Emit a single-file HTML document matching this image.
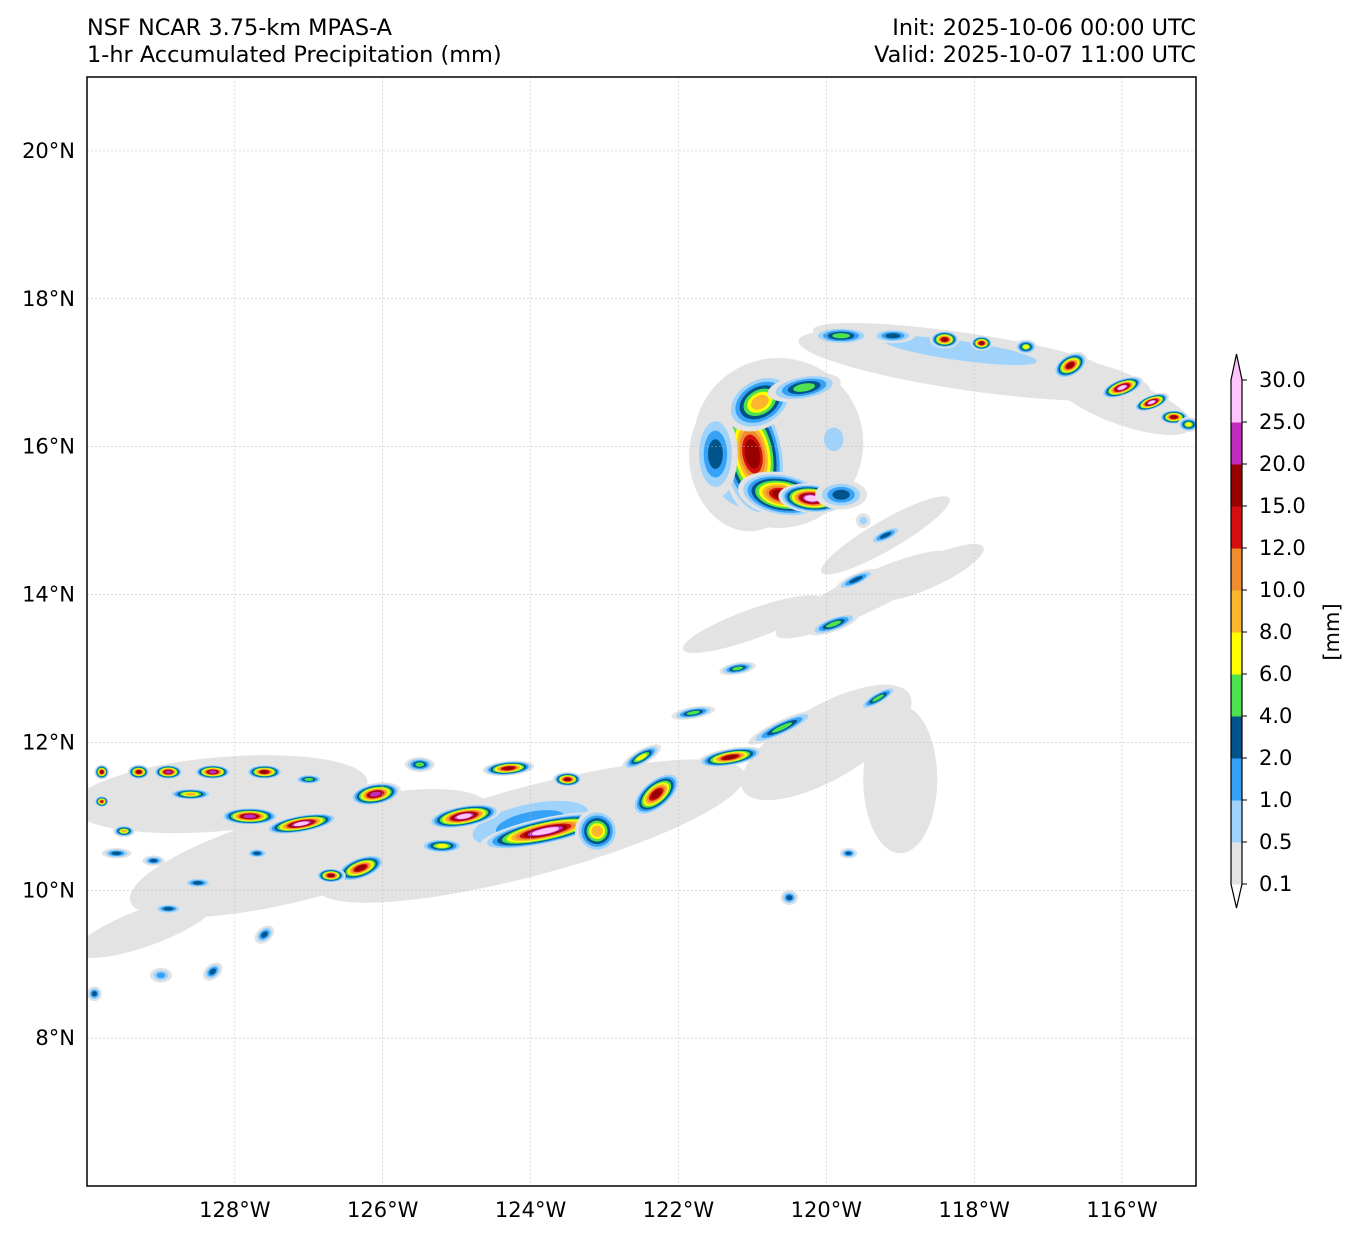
<!DOCTYPE html>
<html><head><meta charset="utf-8"><style>
body{margin:0;background:#fff;font-family:"Liberation Sans","DejaVu Sans",sans-serif;}
svg text{font-family:"DejaVu Sans","Liberation Sans",sans-serif;fill:#000;}
</style></head><body>
<svg id="chart" width="1360" height="1239" viewBox="0 0 1360 1239" xmlns="http://www.w3.org/2000/svg">
<text x="87" y="35" font-size="22.4">NSF NCAR 3.75-km MPAS-A</text>
<text x="87" y="62" font-size="22.4">1-hr Accumulated Precipitation (mm)</text>
<text x="1196" y="35" font-size="22.4" text-anchor="end">Init: 2025-10-06 00:00 UTC</text>
<text x="1196" y="62" font-size="22.4" text-anchor="end">Valid: 2025-10-07 11:00 UTC</text>
<defs><clipPath id="clip"><rect x="87" y="77" width="1109" height="1109"/></clipPath></defs>
<g id="field" clip-path="url(#clip)"></g>
<g id="grid"></g>
<rect x="87" y="77" width="1109" height="1109" fill="none" stroke="#000" stroke-width="1.5"/>
<g id="axes"></g>
<g id="cbar"></g>
<text transform="translate(1339,632) rotate(-90)" font-size="21" text-anchor="middle">[mm]</text>
</svg>
<script>
const levelLabels=["0.1","0.5","1.0","2.0","4.0","6.0","8.0","10.0","12.0","15.0","20.0","25.0","30.0"];
const levelColors=["#e3e3e3","#9fd3fb","#35a2f7","#005489","#4fe24f","#ffff00","#fbb62d","#ef8c2d","#d20e0e","#990000","#c22bbd","#ffc3fd"];
const lonTicks=[128,126,124,122,120,118,116];
const latTicks=[20,18,16,14,12,10,8];
// blobs: lon(W), lat(N), radius-x(deg), radius-y(deg), rotation, max level
const blobLon=[120.65,118.0,116.0,119.5,119.2,118.6,120.0,119.0,124.0,127.0,128.2,129.2,121.0,121.1,
121.0,120.6,120.2,120.9,120.3,121.5,119.8,119.9,118.2,
119.8,119.1,118.4,117.9,117.3,116.7,116.0,115.6,115.3,115.1,
119.2,119.6,119.9,121.2,121.8,120.6,119.3,121.3,122.3,
124.0,123.8,124.9,123.1,125.2,126.3,126.7,126.1,125.5,124.3,123.5,122.5,127.1,127.8,128.3,128.9,127.6,129.3,129.8,129.8,129.5,128.6,127.0,
128.5,128.9,128.3,127.6,129.0,129.9,129.6,129.1,127.7,119.7,120.5,119.5];
const blobLat=[16.05,17.1,16.6,14.0,14.8,14.3,12.0,11.5,10.8,10.5,11.3,9.5,13.6,15.8,
15.9,15.35,15.3,16.6,16.8,15.9,15.35,16.1,17.3,
17.5,17.5,17.45,17.4,17.35,17.1,16.8,16.6,16.4,16.3,
14.8,14.2,13.6,13.0,12.4,12.2,12.6,11.8,11.3,
10.9,10.8,11.0,10.8,10.6,10.3,10.2,11.3,11.7,11.65,11.5,11.8,10.9,11.0,11.6,11.6,11.6,11.6,11.6,11.2,10.8,11.3,11.5,
10.1,9.75,8.9,9.4,8.85,8.6,10.5,10.4,10.5,10.5,9.9,15.0];
const blobRx=[1.15,2.4,1.0,1.3,1.0,0.8,1.3,0.5,3.0,2.5,2.0,1.0,1.0,0.75,
0.45,0.6,0.45,0.5,0.5,0.3,0.35,0.25,2.0,
0.4,0.3,0.2,0.15,0.15,0.25,0.3,0.25,0.2,0.15,
0.25,0.3,0.35,0.25,0.3,0.5,0.3,0.45,0.4,
1.2,0.9,0.5,0.3,0.3,0.35,0.2,0.35,0.2,0.35,0.2,0.3,0.5,0.4,0.25,0.2,0.25,0.15,0.1,0.1,0.15,0.3,0.2,
0.2,0.2,0.15,0.15,0.15,0.1,0.2,0.15,0.15,0.12,0.12,0.1];
const blobRy=[1.15,0.35,0.3,0.25,0.2,0.2,0.5,1.0,0.6,0.6,0.5,0.25,0.2,0.95,
0.9,0.3,0.2,0.35,0.18,0.6,0.2,0.3,0.25,
0.12,0.1,0.12,0.1,0.1,0.15,0.12,0.1,0.1,0.1,
0.08,0.08,0.1,0.08,0.08,0.1,0.08,0.12,0.2,
0.4,0.18,0.15,0.3,0.1,0.15,0.1,0.15,0.1,0.1,0.1,0.1,0.12,0.12,0.1,0.1,0.1,0.1,0.1,0.08,0.08,0.08,0.07,
0.07,0.07,0.1,0.1,0.1,0.1,0.07,0.07,0.07,0.07,0.1,0.1];
const blobRot=[0,8,20,-25,-30,-25,-30,0,-15,-15,-5,-20,-20,-10,
-10,10,5,-30,-10,0,0,0,8,
0,0,0,0,0,-30,-20,-20,0,0,
-25,-25,-20,-10,-10,-25,-30,-10,-40,
-12,-12,-10,0,0,-20,0,-10,0,-5,0,-30,-10,0,0,0,0,0,0,0,0,0,0,
0,0,-40,-40,0,0,0,0,0,0,0,0];
const blobLev=[0,0,0,0,0,0,0,0,0,0,0,0,0,2,
9,9,11,6,4,3,3,1,1,
4,3,9,9,5,9,11,11,9,5,
3,3,4,4,4,4,4,9,9,
2,11,11,6,5,9,9,10,4,9,9,5,11,10,10,10,9,9,9,8,6,6,4,
3,3,3,3,2,3,3,3,3,3,3,1];

const NS="http://www.w3.org/2000/svg";
const x0=87,x1=1196,y0=77,y1=1186,lonW=130,lonE=115,latN=21,latS=6;
const xs=w=>x0+(lonW-w)/(lonW-lonE)*(x1-x0);
const ys=n=>y0+(latN-n)/(latN-latS)*(y1-y0);
const pxDeg=(x1-x0)/(lonW-lonE);
const field=document.getElementById('field');
for(let i=0;i<blobLon.length;i++){
  const cx=xs(blobLon[i]),cy=ys(blobLat[i]),L=blobLev[i];
  for(let k=0;k<=L;k++){
    const s=1-Math.pow(k/(L+1),0.85)*0.85;
    const e=document.createElementNS(NS,'ellipse');
    
    
    e.setAttribute('cx',cx);e.setAttribute('cy',cy);
    e.setAttribute('rx',blobRx[i]*pxDeg*s);e.setAttribute('ry',blobRy[i]*pxDeg*s);
    e.setAttribute('transform',`rotate(${blobRot[i]} ${cx} ${cy})`);
    e.setAttribute('fill',levelColors[k]);
    field.appendChild(e);
  }
}
const grid=document.getElementById('grid'),axes=document.getElementById('axes');
lonTicks.forEach(w=>{
  const x=xs(w);
  const l=document.createElementNS(NS,'line');
  
  
  l.setAttribute('x1',x);l.setAttribute('x2',x);l.setAttribute('y1',y0);l.setAttribute('y2',y1);
  l.setAttribute('stroke','#bbb');l.setAttribute('stroke-width','0.5');l.setAttribute('stroke-dasharray','2,2');
  grid.appendChild(l);
  const t=document.createElementNS(NS,'text');
  
  
  t.setAttribute('x',x);t.setAttribute('y',1217);t.setAttribute('font-size','21');t.setAttribute('text-anchor','middle');
  t.textContent=w+'°W';axes.appendChild(t);
});
latTicks.forEach(n=>{
  const y=ys(n);
  const l=document.createElementNS(NS,'line');
  
  
  l.setAttribute('x1',x0);l.setAttribute('x2',x1);l.setAttribute('y1',y);l.setAttribute('y2',y);
  l.setAttribute('stroke','#bbb');l.setAttribute('stroke-width','0.5');l.setAttribute('stroke-dasharray','2,2');
  grid.appendChild(l);
  const t=document.createElementNS(NS,'text');
  
  
  t.setAttribute('x',75);t.setAttribute('y',y+7);t.setAttribute('font-size','21');t.setAttribute('text-anchor','end');
  t.textContent=n+'°N';axes.appendChild(t);
});
const cb=document.getElementById('cbar');
const cbx=1231,cbw=11,cbTop=380,cbBot=884,seg=(cbBot-cbTop)/levelColors.length;
levelColors.forEach((c,i)=>{
  const r=document.createElementNS(NS,'rect');
  
  
  r.setAttribute('x',cbx);r.setAttribute('y',cbBot-(i+1)*seg);r.setAttribute('width',cbw);r.setAttribute('height',seg+0.5);
  r.setAttribute('fill',c);cb.appendChild(r);
});
const topTri=document.createElementNS(NS,'path');


topTri.setAttribute('d',`M${cbx} ${cbTop} L${cbx+cbw/2} 354 L${cbx+cbw} ${cbTop} Z`);
topTri.setAttribute('fill',levelColors[levelColors.length-1]);cb.appendChild(topTri);
const outline=document.createElementNS(NS,'path');


outline.setAttribute('d',`M${cbx} ${cbTop} L${cbx+cbw/2} 354 L${cbx+cbw} ${cbTop} L${cbx+cbw} ${cbBot} L${cbx+cbw/2} 908 L${cbx} ${cbBot} Z`);
outline.setAttribute('fill','none');outline.setAttribute('stroke','#000');outline.setAttribute('stroke-width','1.2');
cb.appendChild(outline);
levelLabels.forEach((lab,i)=>{
  const y=cbBot-i*seg;
  const tk=document.createElementNS(NS,'line');
  
  
  tk.setAttribute('x1',cbx+cbw);tk.setAttribute('x2',cbx+cbw+5);tk.setAttribute('y1',y);tk.setAttribute('y2',y);
  tk.setAttribute('stroke','#000');cb.appendChild(tk);
  const t=document.createElementNS(NS,'text');
  
  
  t.setAttribute('x',1259);t.setAttribute('y',y+7);t.setAttribute('font-size','21');
  t.textContent=lab;cb.appendChild(t);
});
</script>
</body></html>
